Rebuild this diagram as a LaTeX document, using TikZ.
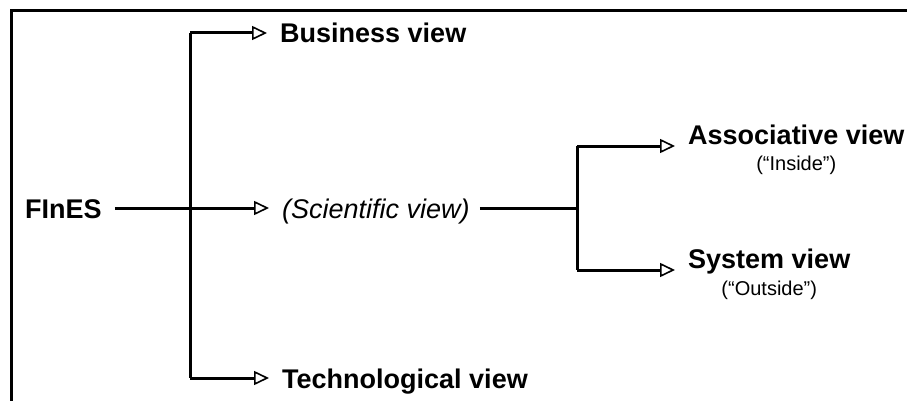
\documentclass[tikz,border=0pt]{standalone}
\usepackage{fontspec}
\setmainfont{Liberation Sans}
\usetikzlibrary{arrows.meta}

\tikzset{
  frameline/.style={line width=3pt},
  treeline/.style={line width=3pt},
  branch/.style={treeline, shorten >=13pt,
    -{Triangle[open, length=15pt, width=14pt, line width=1.6pt]}},
  title/.style={inner sep=0pt, font=\fontsize{27}{32}\selectfont\bfseries},
  sci/.style={inner sep=0pt, font=\fontsize{27}{32}\selectfont\itshape},
  subtitle/.style={inner sep=0pt, font=\fontsize{20}{24}\selectfont}
}

\begin{document}
\begin{tikzpicture}[x=1pt,y=-1pt]

  % page area
  \useasboundingbox (0,0) rectangle (907,401);

  % open frame: left and top edges
  \draw[frameline] (11,401) -- (11,11) -- (907,11);

  % labels
  \node[title, anchor=base west] (fines) at (25,218) {FInES};
  \node[sci, anchor=base west] (sci) at (282,218) {(Scientific view)};
  \node[title, anchor=base west] (bus) at (280,43) {Business view};
  \node[title, anchor=base west] (tech) at (282,388) {Technological view};
  \node[title, anchor=base west] (assoc) at (688,145) {Associative view};
  \node[subtitle, anchor=base] (ins) at ([yshift=-25pt]assoc.base) {(“Inside”)};
  \node[title, anchor=base west] (sys) at (688,268) {System view};
  \node[subtitle, anchor=base] (outs) at ([yshift=-27pt]sys.base) {(“Outside”)};

  % junction points
  \coordinate (j1) at (190,208);
  \coordinate (t1) at (190,33);
  \coordinate (b1) at (190,378);
  \coordinate (j2) at (577,208);
  \coordinate (t2) at (577,146);
  \coordinate (b2) at (577,270);

  % first level tree
  \draw[treeline] (t1) -- (b1);
  \draw[treeline, shorten <=13pt] (fines.east |- j1) -- (j1);
  \draw[branch] (j1) -- (sci.west |- j1);
  \draw[branch] (t1) -- (bus.west |- t1);
  \draw[branch] (b1) -- (tech.west |- b1);

  % second level tree
  \draw[treeline] (t2) -- (b2);
  \draw[treeline, shorten <=10pt] (sci.east |- j2) -- (j2);
  \draw[branch] (t2) -- (assoc.west |- t2);
  \draw[branch] (b2) -- (sys.west |- b2);
\end{tikzpicture}
\end{document}
